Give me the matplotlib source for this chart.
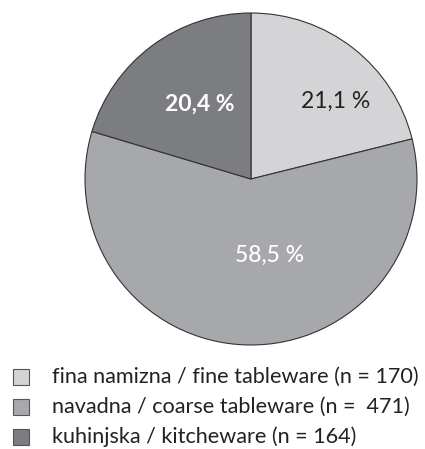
import matplotlib
matplotlib.use("Agg")
import matplotlib.pyplot as plt
from matplotlib.patches import Rectangle

categories = ["fina namizna / fine tableware", "navadna / coarse tableware", "kuhinjska / kitcheware"]
counts = [170, 471, 164]
percent_labels = ["21,1 %", "58,5 %", "20,4 %"]
colors = ["#d4d4d6", "#a7a8ab", "#7c7d81"]
label_colors = ["#222222", "white", "white"]
legend_labels = ["fina namizna / fine tableware (n = 170)",
                 "navadna / coarse tableware (n =  471)",
                 "kuhinjska / kitcheware (n = 164)"]

plt.rcParams["font.family"] = ["Lato", "DejaVu Sans"]

W, H = 425, 449
fig = plt.figure(figsize=(W / 100, H / 100), dpi=100)
cx, cy, r = 251, 179, 166
ax = fig.add_axes([(cx - r) / W, (H - cy - r) / H, 2 * r / W, 2 * r / H])

wedges, _ = ax.pie(counts, colors=colors, startangle=90, counterclock=False,
                   wedgeprops=dict(edgecolor="#333333", linewidth=0.8))
ax.set_xlim(-1, 1)
ax.set_ylim(-1, 1)
ax.set_aspect("equal")
ax.axis("off")

label_pos = [(0.51, 0.47), (0.11, -0.46), (-0.31, 0.45)]
weights = ["normal", "medium", "bold"]
for (x, y), txt, c, w in zip(label_pos, percent_labels, label_colors, weights):
    ax.text(x, y, txt, color=c, fontsize=16.5, ha="center", va="center", fontweight=w)

# legend drawn in pixel units (origin top-left)
def px(x, y):
    return x / W, 1 - y / H

sq = 16
for i, (col, lab) in enumerate(zip(colors, legend_labels)):
    yc = 377 + 30 * i
    x0, y0 = px(13, yc + sq / 2)
    fig.patches.append(Rectangle((x0, y0), sq / W, sq / H, transform=fig.transFigure,
                                 facecolor=col, edgecolor="#555555", linewidth=0.8))
    tx, ty = px(52, yc)
    fig.text(tx, ty, lab, fontsize=15.6, ha="left", va="center", color="#222222")

fig.savefig("out.png", dpi=100)
